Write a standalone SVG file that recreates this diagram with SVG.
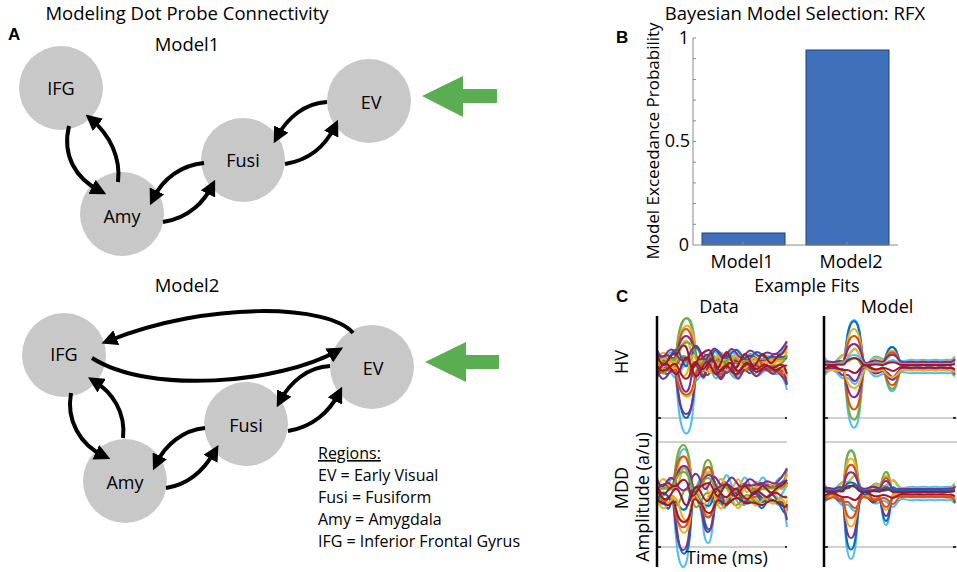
<svg xmlns="http://www.w3.org/2000/svg" xmlns:xlink="http://www.w3.org/1999/xlink" width="957" height="572" viewBox="0 0 957 572">
<style>
text{font-family:"Open Sans","Noto Sans","Liberation Sans",sans-serif;fill:#000}
.title{font-size:18.5px}
.lbl{font-size:18px;text-anchor:middle}
.tick{font-size:18px;text-anchor:end}
.node circle{fill:#c8c8c8}
.node text{font-size:18px;text-anchor:middle}
.plet{font-family:"Liberation Sans",Arial,sans-serif;font-weight:bold;font-size:17px}
.conn path{fill:none;stroke:#000;stroke-width:4;marker-end:url(#ah)}
.reg{font-size:16px}
.tr{fill:none;stroke-width:2;vector-effect:non-scaling-stroke;stroke-linejoin:round}
.ax{stroke:#8a8a8a;stroke-width:1;fill:none}
.grid{stroke:#d0d0d0;stroke-width:2}
</style>
<defs>
<marker id="ah" markerUnits="userSpaceOnUse" markerWidth="16" markerHeight="16" refX="9" refY="8" orient="auto">
<path d="M0,0 L16,8 L0,16 z" fill="#000"/>
</marker>
<path id="d1" class="tr" d="M0,-2 C4,-10 7,6 11,0 C14,-5 16,4 18,-2 C20,-10 21,-44 29,-45 C37,-46 37,-10 40,-2 C42,6 43,-6 46,-8 C49,-10 50,6 54,8 C58,10 60,-10 64,-8 C68,-6 70,6 74,4 C78,2 80,-6 84,-4 C88,-2 92,5 96,3 C100,1 104,4 108,0 C112,-4 116,4 120,-2 C124,-8 127,-6 130,-16"/>
<path id="d2" class="tr" d="M0,4 C3,-4 6,-8 10,-2 C13,3 15,-5 18,0 C20,-10 22,-44 30,-44 C38,-44 38,-10 40,0 C42,8 44,12 47,4 C50,-6 52,-12 56,-8 C60,-4 62,8 66,6 C70,4 72,-8 76,-6 C80,-4 84,6 88,4 C92,2 96,-5 100,-3 C104,-1 108,-4 112,0 C116,4 120,-5 124,-3 C127,-1 129,-8 130,-10"/>
<path id="d3" class="tr" d="M0,-6 C5,2 8,-8 12,-4 C15,-1 16,4 19,-3 C21,-14 23,-40 29,-40 C35,-40 36,-18 39,-6 C41,6 44,4 48,-4 C52,-10 55,2 58,4 C62,6 66,-6 70,-4 C74,-2 78,8 82,6 C86,4 90,-6 94,-4 C98,-2 102,6 106,4 C110,2 114,-4 118,-2 C122,0 126,-4 130,-2"/>
<path id="n1" class="tr" d="M0,-4 C3,4 6,6 9,0 C12,-6 15,-8 18,-2 C21,4 24,10 28,8 C32,6 34,-8 38,-10 C42,-12 44,2 47,6 C50,10 53,-2 56,-6 C59,-10 62,2 65,4 C68,6 71,-4 74,-6 C77,-8 80,2 83,4 C86,6 89,-2 92,-4 C95,-6 98,0 101,2 C104,4 107,-2 110,-2 C113,-2 116,2 119,0 C122,-2 126,-8 130,-16"/>
<path id="n2" class="tr" d="M0,6 C3,0 6,-6 10,-4 C14,-2 16,8 20,6 C24,4 26,-12 30,-10 C34,-8 36,10 40,8 C44,6 46,-6 50,-6 C54,-6 56,8 60,6 C64,4 66,-4 70,-2 C74,0 76,8 80,6 C84,4 86,-4 90,-4 C94,-4 96,4 100,4 C104,4 106,-2 110,-2 C114,-2 116,4 120,2 C124,0 127,-4 130,-2"/>
<path id="n3" class="tr" d="M0,0 C4,-6 6,-8 10,-4 C14,0 16,4 19,2 C22,0 24,-16 29,-16 C34,-16 34,0 37,4 C40,8 42,-2 45,-4 C48,-6 51,6 54,8 C57,10 60,-4 63,-6 C66,-8 69,2 72,4 C75,6 78,-6 81,-6 C84,-6 87,4 90,4 C93,4 96,-4 99,-4 C102,-4 105,2 108,2 C111,2 114,-4 117,-2 C120,0 124,4 127,0 C128,-2 129,-8 130,-10"/>
<path id="d4" class="tr" d="M0,-6 C3,4 6,-10 9,-4 C12,2 14,-2 16,-4 C18,-14 19,-44 26,-45 C33,-46 33,-12 36,-2 C38,6 40,-4 43,-8 C46,-12 46,-30 51,-30 C56,-30 56,-8 59,-2 C62,4 65,-10 68,-8 C71,-6 73,6 77,4 C81,2 84,-8 88,-6 C92,-4 96,4 100,2 C104,0 108,-6 112,-4 C116,-2 120,-8 124,-6 C127,-4 129,-16 130,-20"/>
<path id="d5" class="tr" d="M0,4 C4,-8 7,-2 10,-8 C13,-12 15,2 17,-2 C19,-10 20,-42 27,-42 C34,-42 34,-10 36,0 C38,8 41,0 44,-6 C47,-10 47,-24 52,-24 C57,-24 57,-6 60,0 C63,6 66,-8 70,-6 C74,-4 76,8 80,6 C84,4 88,-8 92,-4 C96,0 100,-6 104,-8 C108,-10 112,4 116,2 C120,0 124,-10 128,-12 C129,-12 130,-6 130,-6"/>
<path id="n4" class="tr" d="M0,-6 C3,2 6,6 9,2 C12,-2 15,-8 18,-6 C21,-4 22,-14 27,-14 C32,-14 32,4 35,6 C38,8 41,-4 44,-6 C47,-8 49,-10 52,-10 C55,-10 57,4 60,6 C63,8 66,-6 69,-8 C72,-10 75,4 78,6 C81,8 84,-4 87,-6 C90,-8 93,2 96,4 C99,6 102,-4 105,-6 C108,-8 111,2 114,2 C117,2 120,-6 123,-6 C126,-6 128,-10 130,-14"/>
<path id="m1" class="tr" d="M0,0 C4,-5 8,3 12,-1 C16,-5 18,0 20,-3 C22,-14 23,-45 30,-45 C37,-45 37,-12 40,-2 C42,6 44,2 48,-2 C52,-6 55,-2 58,0 C61,2 62,-18 68,-18 C74,-18 74,-2 78,0 C82,2 86,-2 90,0 C94,2 98,-2 102,0 C106,2 110,-2 114,0 C118,2 122,-2 126,0 C128,1 129,-4 131,-6"/>
<path id="m2" class="tr" d="M0,-2 C4,-7 8,3 12,-2 C16,-7 17,-2 19,-4 C21,-14 21,-42 27,-42 C33,-42 33,-12 36,-4 C39,2 42,0 46,-4 C50,-8 53,-4 55,-2 C57,0 58,-20 62,-20 C66,-20 66,-4 69,0 C72,2 76,-1 80,0 C84,1 88,-1 92,0 C96,1 100,-1 104,0 C108,1 112,-1 116,0 C120,1 124,-2 128,-1 C129,-1 131,-6 131,-6"/>
<path id="mn" class="tr" d="M0,-4 C4,2 8,4 12,0 C16,-4 18,-8 22,-6 C26,-4 27,-12 31,-12 C35,-12 36,2 40,4 C44,6 46,-2 50,-4 C54,-6 56,-2 60,-2 C64,-2 66,-8 69,-8 C72,-8 74,0 78,0 C82,0 86,-2 90,-1 C94,0 98,-2 102,-1 C106,0 110,-2 114,-1 C118,0 122,-2 126,-1 C128,0 129,-4 131,-4"/>
</defs>

<!-- Panel A -->
<text class="title" x="187" y="20" text-anchor="middle">Modeling Dot Probe Connectivity</text>
<text class="plet" x="8" y="40">A</text>
<text class="title" x="187" y="51" text-anchor="middle">Model1</text>
<text class="title" x="187" y="292" text-anchor="middle">Model2</text>

<g id="m1-nodes">
<g id="m1-IFG" class="node"><circle cx="61" cy="88" r="42"/><text x="61" y="95">IFG</text></g>
<g id="m1-Amy" class="node"><circle cx="122" cy="214" r="42"/><text x="122" y="223">Amy</text></g>
<g id="m1-Fusi" class="node"><circle cx="243" cy="160" r="42"/><text x="243" y="167">Fusi</text></g>
<g id="m1-EV" class="node"><circle cx="369" cy="101" r="42"/><text x="371" y="109">EV</text></g>
</g>
<g id="m2-nodes">
<g id="m2-IFG" class="node"><circle cx="64" cy="355" r="42"/><text x="64" y="361">IFG</text></g>
<g id="m2-Amy" class="node"><circle cx="125" cy="481" r="42"/><text x="125" y="489">Amy</text></g>
<g id="m2-Fusi" class="node"><circle cx="246" cy="424" r="42"/><text x="246" y="432">Fusi</text></g>
<g id="m2-EV" class="node"><circle cx="372" cy="367" r="42"/><text x="373" y="375">EV</text></g>
</g>

<g id="connectors" class="conn">
<!-- Model1 -->
<path d="M69,126 C62,155 75,178 100,191"/>
<path d="M118,182 C121,158 110,135 91,119"/>
<path d="M204,163 C182,165 163,178 153,199"/>
<path d="M163,222 C190,218 205,200 212,186"/>
<path d="M327,102 C305,103 287,118 277,137"/>
<path d="M285,164 C310,160 326,145 335,126"/>
<!-- Model2 -->
<path d="M353,333 C330,305 210,300 108,341"/>
<path d="M92,358 C150,395 280,383 337,351"/>
<path d="M71,393 C66,420 80,445 104,456"/>
<path d="M123,438 C126,412 112,392 94,381"/>
<path d="M205,428 C183,430 165,445 156,464"/>
<path d="M166,488 C193,484 207,465 215,451"/>
<path d="M330,366 C308,367 290,382 280,401"/>
<path d="M288,431 C313,427 330,411 339,393"/>
</g>

<polygon points="422,96 463,76 463,89 497,89 497,103 463,103 463,117" fill="#5aad50"/>
<polygon points="425,362 466,342 466,355 499,355 499,369 466,369 466,382" fill="#5aad50"/>

<g id="regions">
<text class="reg" x="318" y="459" text-decoration="underline">Regions:</text>
<text class="reg" x="318" y="481">EV = Early Visual</text>
<text class="reg" x="318" y="503">Fusi = Fusiform</text>
<text class="reg" x="318" y="525">Amy = Amygdala</text>
<text class="reg" x="318" y="547">IFG = Inferior Frontal Gyrus</text>
</g>

<!-- Panel B -->
<g id="panelB">
<text class="title" x="795" y="20" text-anchor="middle">Bayesian Model Selection: RFX</text>
<text class="plet" x="616" y="43">B</text>
<rect x="702" y="233" width="83" height="12" fill="#4170ba" stroke="#1f3f7a" stroke-width="1"/>
<rect x="806" y="50" width="83" height="195" fill="#4170ba" stroke="#1f3f7a" stroke-width="1"/>
<path class="ax" d="M693,38 V245 H898"/>
<path class="ax" d="M693,58.7 h3 M693,79.4 h3 M693,100.1 h3 M693,120.8 h3 M693,141.5 h3 M693,162.2 h3 M693,182.9 h3 M693,203.6 h3 M693,224.3 h3 M693,38 h3 M743,245 v-3 M847,245 v-3"/>
<text class="tick" x="689" y="44">1</text>
<text class="tick" x="690" y="147">0.5</text>
<text class="tick" x="689" y="251">0</text>
<text class="lbl" x="742" y="268">Model1</text>
<text class="lbl" x="851" y="268">Model2</text>
<text class="lbl" style="font-size:17px" transform="translate(659,141) rotate(-90)">Model Exceedance Probability</text>
</g>

<!-- Panel C -->
<g id="panelC">
<text class="lbl" x="807" y="292">Example Fits</text>
<text class="plet" x="616" y="302">C</text>
<text class="lbl" x="719" y="313">Data</text>
<text class="lbl" x="887" y="313">Model</text>
<text class="lbl" transform="translate(628,362) rotate(-90)">HV</text>
<text class="lbl" transform="translate(628,488) rotate(-90)">MDD</text>
<text class="lbl" transform="translate(649,497) rotate(-90)">Amplitude (a/u)</text>

<path class="grid" d="M658,418 H787 M658,442 H787 M658,547 H787 M825,418 H957 M825,442 H957 M825,547 H957"/>
<path stroke="#333" stroke-width="2" d="M658,418 h3 M785,418 h2 M658,547 h3 M785,547 h2 M825,418 h3 M953,418 h3 M825,547 h3 M953,547 h3"/>

<!-- Data HV -->
<g transform="translate(657,364)">
<use href="#d1" transform="translate(0,2) scale(1,-1.5)" stroke="#4DBEEE" style="stroke-width:5"/>
<use href="#d2" transform="translate(0,-2) scale(1,1.0)" stroke="#4DBEEE" style="stroke-width:5"/>
<use href="#n1" transform="translate(0,-6)" stroke="#4DBEEE" style="stroke-width:5"/>
<use href="#n2" transform="translate(0,8)" stroke="#4DBEEE" style="stroke-width:4"/>
<use href="#d3" transform="translate(0,4) scale(1,-1.25)" stroke="#0072BD"/>
<use href="#d1" transform="translate(0,-3) scale(1,0.95)" stroke="#77AC30"/>
<use href="#d2" transform="translate(0,-1) scale(1,0.85)" stroke="#EDB120" style="stroke-width:3"/>
<use href="#d3" transform="translate(0,-5) scale(1,0.75)" stroke="#D95319"/>
<use href="#d1" transform="translate(0,5) scale(1,-1.0)" stroke="#7E2F8E"/>
<use href="#n3" transform="translate(0,-4) scale(1,1.2)" stroke="#EDB120" style="stroke-width:3"/>
<use href="#d2" transform="translate(0,2) scale(1,-0.7)" stroke="#EDB120" style="stroke-width:3"/>
<use href="#n4" transform="translate(0,6)" stroke="#77AC30"/>
<use href="#d3" transform="translate(0,-6) scale(1,0.55)" stroke="#7E2F8E"/>
<use href="#n1" transform="translate(0,2) scale(1,-1)" stroke="#D95319"/>
<use href="#d1" transform="translate(0,6) scale(1,-0.55)" stroke="#D95319"/>
<use href="#n2" transform="translate(0,-8) scale(1,-1)" stroke="#0072BD"/>
<use href="#n3" transform="translate(0,7) scale(1,-1.3)" stroke="#7E2F8E"/>
<use href="#d2" transform="translate(0,-4) scale(1,0.4)" stroke="#77AC30"/>
<use href="#n4" transform="translate(0,-2) scale(1,-1)" stroke="#EDB120"/>
<use href="#n1" transform="translate(0,-10) scale(1,0.8)" stroke="#7E2F8E"/>
<use href="#n2" transform="translate(0,4)" stroke="#A2142F" style="stroke-width:2.5"/>
<use href="#n4" transform="translate(0,-3) scale(1,1.1)" stroke="#A2142F" style="stroke-width:2.5"/>
<use href="#n3" transform="translate(0,2) scale(1,-0.8)" stroke="#A2142F" style="stroke-width:2.5"/>
</g>

<!-- Data MDD -->
<g transform="translate(657,493)">
<use href="#d4" transform="translate(0,2) scale(1,-1.6)" stroke="#4DBEEE" style="stroke-width:5"/>
<use href="#d5" transform="translate(0,-2) scale(1,1.0)" stroke="#4DBEEE" style="stroke-width:5"/>
<use href="#n4" transform="translate(0,-8) scale(1,1.2)" stroke="#4DBEEE" style="stroke-width:5"/>
<use href="#n1" transform="translate(0,8)" stroke="#4DBEEE" style="stroke-width:4"/>
<use href="#d4" transform="translate(0,-3) scale(1,1.0)" stroke="#77AC30"/>
<use href="#d5" transform="translate(0,4) scale(1,-1.35)" stroke="#0072BD"/>
<use href="#d4" transform="translate(0,3) scale(1,-1.2)" stroke="#7E2F8E"/>
<use href="#d5" transform="translate(0,-1) scale(1,0.85)" stroke="#EDB120" style="stroke-width:3"/>
<use href="#d4" transform="translate(0,-5) scale(1,0.7)" stroke="#D95319"/>
<use href="#d5" transform="translate(0,2) scale(1,-0.9)" stroke="#EDB120" style="stroke-width:3"/>
<use href="#n3" transform="translate(0,-6) scale(1,1.3)" stroke="#EDB120" style="stroke-width:3"/>
<use href="#d4" transform="translate(0,5) scale(1,-0.65)" stroke="#D95319"/>
<use href="#n2" transform="translate(0,6)" stroke="#77AC30"/>
<use href="#d5" transform="translate(0,-6) scale(1,0.5)" stroke="#7E2F8E"/>
<use href="#n4" transform="translate(0,3) scale(1,-1)" stroke="#0072BD"/>
<use href="#n1" transform="translate(0,-10) scale(1,0.9)" stroke="#7E2F8E"/>
<use href="#d4" transform="translate(0,-3) scale(1,0.4)" stroke="#77AC30"/>
<use href="#n3" transform="translate(0,8) scale(1,-1.2)" stroke="#EDB120"/>
<use href="#d5" transform="translate(0,8) scale(1,-0.5)" stroke="#A2142F" style="stroke-width:2.5"/>
<use href="#n2" transform="translate(0,2) scale(1,-1)" stroke="#A2142F" style="stroke-width:2.5"/>
<use href="#n4" transform="translate(0,-2) scale(1,0.8)" stroke="#A2142F" style="stroke-width:2.5"/>
</g>

<!-- Model HV -->
<g transform="translate(824,366)">
<use href="#m1" transform="translate(0,1) scale(1,-1.35)" stroke="#4DBEEE" style="stroke-width:5"/>
<use href="#m1" transform="translate(0,-1) scale(1,1.0)" stroke="#4DBEEE" style="stroke-width:5"/>
<use href="#mn" transform="translate(0,-5)" stroke="#4DBEEE" style="stroke-width:5"/>
<use href="#mn" transform="translate(0,6) scale(1,-1)" stroke="#4DBEEE" style="stroke-width:4"/>
<use href="#m1" transform="translate(0,-2) scale(1,0.95)" stroke="#0072BD"/>
<use href="#m1" transform="translate(0,2) scale(1,-1.15)" stroke="#77AC30"/>
<use href="#m1" transform="translate(0,-1) scale(1,0.8)" stroke="#EDB120" style="stroke-width:3"/>
<use href="#m1" transform="translate(0,3) scale(1,-0.9)" stroke="#D95319"/>
<use href="#mn" transform="translate(0,-3) scale(1,1.2)" stroke="#EDB120" style="stroke-width:3"/>
<use href="#m1" transform="translate(0,-3) scale(1,0.6)" stroke="#D95319"/>
<use href="#m1" transform="translate(0,2) scale(1,-0.65)" stroke="#7E2F8E"/>
<use href="#mn" transform="translate(0,3) scale(1,-1)" stroke="#7E2F8E"/>
<use href="#m1" transform="translate(0,-4) scale(1,0.4)" stroke="#7E2F8E"/>
<use href="#m1" transform="translate(0,4) scale(1,-0.4)" stroke="#EDB120"/>
<use href="#mn" transform="translate(0,-1) scale(1,0.6)" stroke="#77AC30"/>
<use href="#m1" transform="translate(0,-2) scale(1,0.2)" stroke="#4DBEEE"/>
<use href="#mn" transform="translate(0,1) scale(1,-0.5)" stroke="#A2142F" style="stroke-width:2.5"/>
<use href="#m1" transform="translate(0,-1) scale(1,0.15)" stroke="#A2142F" style="stroke-width:2.5"/>
</g>

<!-- Model MDD -->
<g transform="translate(824,493)">
<use href="#m2" transform="translate(0,1) scale(1,-1.55)" stroke="#4DBEEE" style="stroke-width:5"/>
<use href="#m2" transform="translate(0,-1) scale(1,1.0)" stroke="#4DBEEE" style="stroke-width:5"/>
<use href="#mn" transform="translate(0,-5)" stroke="#4DBEEE" style="stroke-width:5"/>
<use href="#mn" transform="translate(0,6) scale(1,-1)" stroke="#4DBEEE" style="stroke-width:4"/>
<use href="#m2" transform="translate(0,-2) scale(1,0.95)" stroke="#77AC30"/>
<use href="#m2" transform="translate(0,2) scale(1,-1.3)" stroke="#0072BD"/>
<use href="#m2" transform="translate(0,-1) scale(1,0.8)" stroke="#EDB120" style="stroke-width:3"/>
<use href="#m2" transform="translate(0,3) scale(1,-1.0)" stroke="#7E2F8E"/>
<use href="#mn" transform="translate(0,-3) scale(1,1.2)" stroke="#EDB120" style="stroke-width:3"/>
<use href="#m2" transform="translate(0,-3) scale(1,0.6)" stroke="#D95319"/>
<use href="#m2" transform="translate(0,2) scale(1,-0.75)" stroke="#EDB120" style="stroke-width:3"/>
<use href="#mn" transform="translate(0,3) scale(1,-1)" stroke="#D95319"/>
<use href="#m2" transform="translate(0,-4) scale(1,0.4)" stroke="#7E2F8E"/>
<use href="#m2" transform="translate(0,4) scale(1,-0.5)" stroke="#D95319"/>
<use href="#mn" transform="translate(0,-1) scale(1,0.6)" stroke="#0072BD"/>
<use href="#m2" transform="translate(0,-2) scale(1,0.2)" stroke="#0072BD"/>
<use href="#mn" transform="translate(0,1) scale(1,-0.5)" stroke="#A2142F" style="stroke-width:2.5"/>
<use href="#m2" transform="translate(0,-1) scale(1,0.15)" stroke="#A2142F" style="stroke-width:2.5"/>
</g>

<path stroke="#000" stroke-width="2.5" d="M657,316 V567 M824,316 V567"/>
<text class="lbl" x="727" y="564">Time (ms)</text>
</g>
</svg>
